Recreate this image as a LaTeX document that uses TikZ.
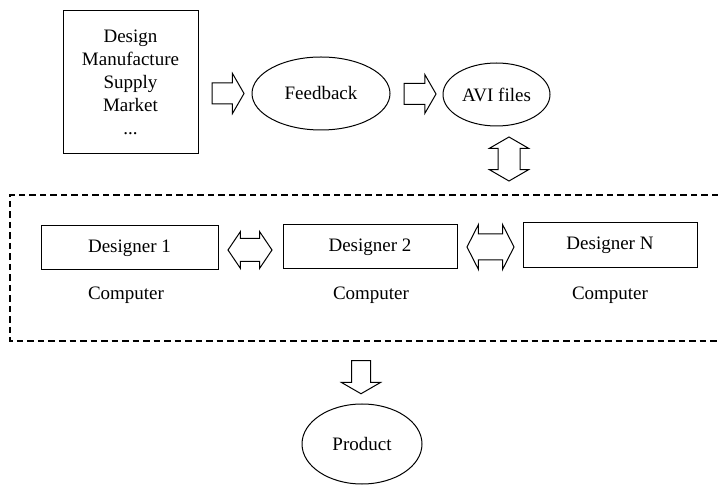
\documentclass[tikz,border=0pt]{standalone}
\usepackage{fontspec}
\setmainfont{Liberation Serif}
\usetikzlibrary{shapes.geometric,shapes.arrows}
\begin{document}
\begin{tikzpicture}[x=1pt,y=-1pt,
  every node/.style={font=\fontsize{19}{23}\selectfont},
  sqbox/.style={draw,line width=1pt,rectangle,inner sep=0pt,align=center},
  oval/.style={draw,line width=1pt,ellipse,inner sep=0pt},
  lbl/.style={anchor=base,inner sep=0pt},
  sarrow/.style={draw,line width=1pt,single arrow,inner xsep=0pt,single arrow tip angle=120},
  darrow/.style={draw,line width=1pt,double arrow,inner xsep=0pt},
  dashframe/.style={line width=1.1pt,dash pattern=on 6.5pt off 4pt}]
\useasboundingbox (0,0) rectangle (718,486);
% top row
\node[sqbox,minimum width=135pt,minimum height=143pt] (src) at (130.5,82)
  {Design\\Manufacture\\Supply\\Market\\\raisebox{0pt}{...}};
\node[oval,minimum width=138pt,minimum height=73pt] (fb) at (321,93.5) {Feedback};
\node[oval,minimum width=107pt,minimum height=63pt] (avi) at (496.5,94.5) {AVI files};
\node[sarrow,inner ysep=10pt,minimum height=32pt,single arrow head extend=9.5pt] (a1) at (225,93.5) {};
\node[sarrow,inner ysep=10pt,minimum height=32pt,single arrow head extend=9pt] (a2) at (417,94) {};
\node[darrow,rotate=90,inner ysep=10.5pt,minimum height=44pt,double arrow head extend=8.5pt,double arrow tip angle=120] (v1) at (509,159) {};
% dashed frame (open to the right edge)
\coordinate (fTR) at (718,195);
\coordinate (fTL) at (10,195);
\coordinate (fBL) at (10,341);
\coordinate (fBR) at (718,341);
\draw[dashframe] (fTR) -- (fTL) -- (fBL) -- (fBR);
% designers
\node[sqbox,minimum width=177pt,minimum height=44pt] (d1) at (129.5,248) {Designer 1};
\node[sqbox,minimum width=174pt,minimum height=44pt] (d2) at (370,247) {Designer 2};
\node[sqbox,minimum width=174pt,minimum height=45pt] (dn) at (610,245.5) {Designer N};
\node[darrow,inner ysep=11pt,minimum height=44pt,double arrow head extend=7pt,double arrow tip angle=112] (h1) at (250,250) {};
\node[darrow,inner ysep=12.5pt,minimum height=47pt,double arrow head extend=9.5pt,double arrow tip angle=126] (h2) at (490.5,247) {};
\node[lbl] (c1) at (126,300) {Computer};
\node[lbl] (c2) at (371,300) {Computer};
\node[lbl] (c3) at (610,300) {Computer};
% product
\node[sarrow,rotate=-90,inner ysep=9pt,minimum height=33pt,single arrow head extend=10pt] (dw) at (361,374.5) {};
\node[oval,minimum width=120pt,minimum height=80pt] (prod) at (362,444) {Product};
\end{tikzpicture}
\end{document}
